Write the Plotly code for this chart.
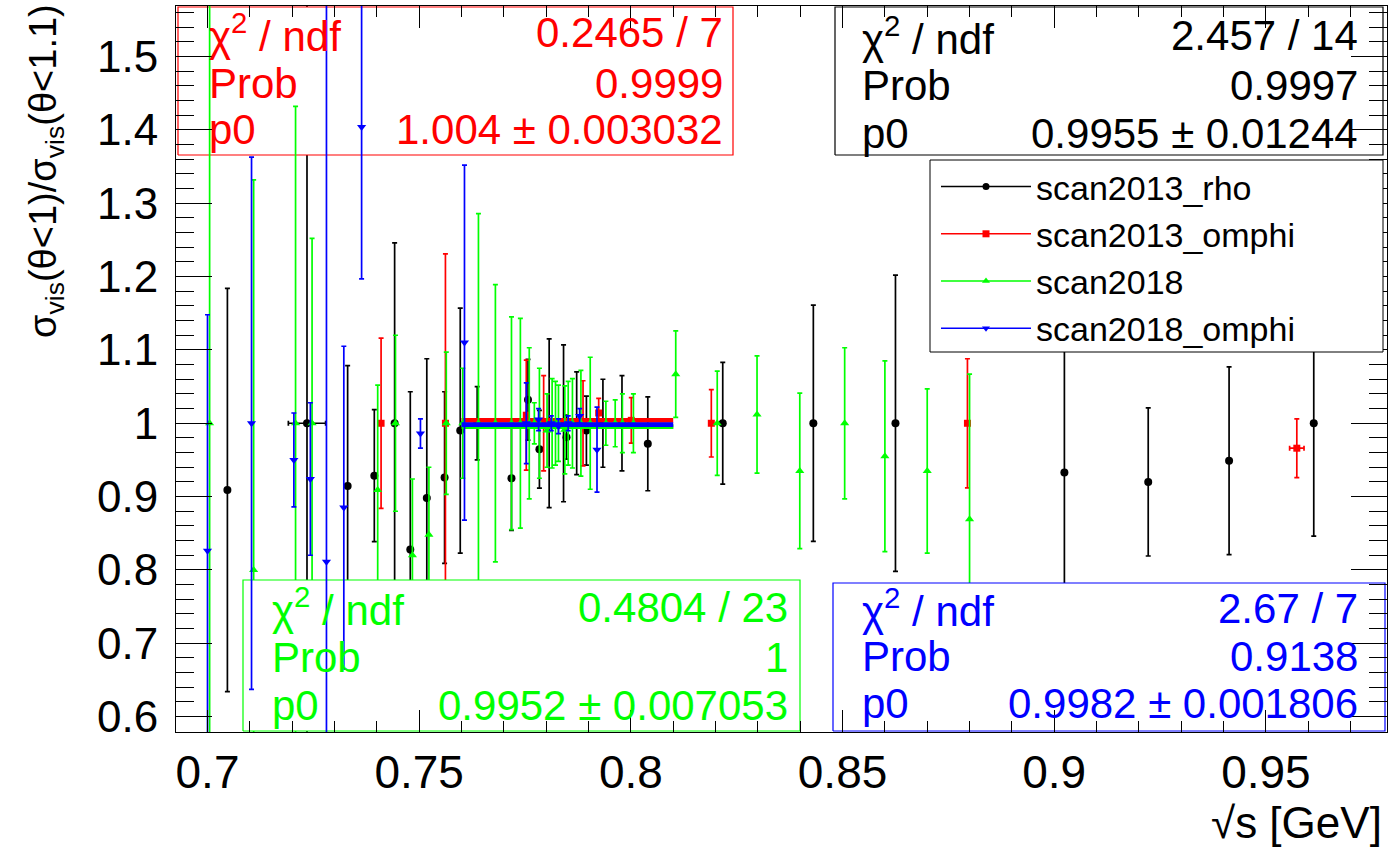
import plotly.graph_objects as go

# ---------------- data ----------------
rho_x = [0.7047, 0.7235, 0.7331, 0.7394, 0.7442, 0.7479, 0.7518, 0.7560, 0.7597, 0.7637,
         0.7718, 0.7757, 0.7784, 0.7807, 0.7841, 0.7848, 0.7872, 0.7895, 0.7934, 0.7979,
         0.8040, 0.8217, 0.8431, 0.8625, 0.9024, 0.9222, 0.9413, 0.9613]
rho_y = [0.909, 1.0, 0.9145, 0.9286, 1.0, 0.828, 0.898, 0.926, 0.990, 1.0,
         0.925, 1.032, 0.9645, 1.0, 1.0, 0.981, 1.0, 0.990, 1.0, 1.0,
         0.972, 1.0, 1.0, 1.0, 0.933, 0.920, 0.949, 1.0]
rho_ey = [0.275, 0.60, 0.164, 0.09, 0.246, 0.215, 0.19, 0.117, 0.167, 0.05,
          0.071, 0.055, 0.053, 0.115, 0.107, 0.03, 0.07, 0.047, 0.06, 0.065,
          0.064, 0.083, 0.161, 0.202, 0.25, 0.101, 0.128, 0.154]
rho_ex = [0, 0.0044, 0, 0, 0, 0, 0, 0, 0, 0,
          0, 0, 0, 0, 0, 0, 0, 0, 0, 0,
          0, 0, 0, 0, 0, 0, 0, 0]

omphi13_x = [0.7410, 0.7562, 0.7753, 0.7794, 0.7887, 0.7924, 0.8001, 0.8190, 0.8795, 0.9573]
omphi13_y = [1.0, 1.0, 1.011, 1.0, 1.0, 1.014, 1.004, 1.0, 1.0, 0.966]
omphi13_ey = [0.116, 0.231, 0.075, 0.065, 0.058, 0.02, 0.031, 0.046, 0.088, 0.04]
omphi13_ex = [0, 0, 0, 0, 0, 0, 0, 0, 0, 0.0017]

s18_x = [0.7005, 0.7109, 0.7208, 0.7247, 0.7402, 0.7444, 0.7484, 0.7523, 0.7564, 0.7603,
         0.7640, 0.7680, 0.7718, 0.7739, 0.7760, 0.7772, 0.7784, 0.7802, 0.7814, 0.7822,
         0.7829, 0.7844, 0.7852, 0.7862, 0.7882, 0.7904, 0.7941, 0.7963, 0.7980, 0.8006,
         0.8106, 0.8204, 0.8298, 0.8399, 0.8505, 0.8600, 0.8700, 0.8800]
s18_y = [1.0, 0.80, 1.0, 1.0, 0.909, 1.0, 0.82, 0.848, 1.0, 1.0,
         1.0, 1.0, 1.0, 1.0, 1.0, 1.0, 1.0, 0.99, 1.0, 1.0,
         1.0, 0.991, 1.0, 1.0, 1.0, 1.0, 1.0, 1.0, 1.0, 1.0,
         1.067, 1.0, 1.012, 0.935, 1.0, 0.955, 0.935, 0.869]
s18_ey = [0.62, 0.532, 0.432, 0.252, 0.143, 0.12, 0.104, 0.092, 0.097, 0.075,
          0.286, 0.189, 0.145, 0.143, 0.103, 0.028, 0.075, 0.05, 0.061, 0.057,
          0.052, 0.06, 0.057, 0.061, 0.072, 0.09, 0.03, 0.032, 0.04, 0.04,
          0.059, 0.071, 0.08, 0.106, 0.103, 0.13, 0.112, 0.198]

om18_x = [0.7000, 0.7104, 0.7204, 0.7243, 0.7281, 0.7322, 0.7364, 0.7503,
          0.7607, 0.7753, 0.7782, 0.7812, 0.7829, 0.7852, 0.7879, 0.7920]
om18_y = [0.826, 1.0, 0.950, 0.924, 0.811, 0.885, 1.404, 0.986,
          1.11, 1.0, 1.005, 1.0, 0.996, 1.0, 1.01, 0.964]
om18_ey = [0.322, 0.363, 0.064, 0.104, 0.77, 0.22, 0.207, 0.02,
           0.242, 0.055, 0.015, 0.01, 0.01, 0.01, 0.01, 0.058]

fit_range = [0.76, 0.81]
fit_p0 = {"rho": 0.9955, "omphi13": 1.004, "s18": 0.9952, "om18": 0.9982}

series_names = ["scan2013_rho", "scan2013_omphi", "scan2018", "scan2018_omphi"]
colors = ["#000000", "#ff0000", "#00ff00", "#0000ff"]
symbols = ["circle", "square", "triangle-up", "triangle-down"]

stat_labels = ["χ<sup>2</sup> / ndf", "Prob", "p0"]
stat_values = {
    "rho": ["2.457 / 14", "0.9997", "0.9955 ± 0.01244"],
    "omphi13": ["0.2465 / 7", "0.9999", "1.004 ± 0.003032"],
    "s18": ["0.4804 / 23", "1", "0.9952 ± 0.007053"],
    "om18": ["2.67 / 7", "0.9138", "0.9982 ± 0.001806"],
}

x_ticks = [0.7, 0.75, 0.8, 0.85, 0.9, 0.95]
y_ticks = [0.6, 0.7, 0.8, 0.9, 1.0, 1.1, 1.2, 1.3, 1.4, 1.5]

# ---------------- layout geometry ----------------
W, H = 1393, 849
L, R, T, B = 176, 1387, 6, 732
xr = [0.69256, 0.9786]
yr = [0.5790, 1.5690]

def px2x(px):
    return xr[0] + (px - L) / (R - L) * (xr[1] - xr[0])

def py2y(py):
    return yr[1] - (py - T) / (B - T) * (yr[1] - yr[0])

def pap_x(px):
    return (px - L) / (R - L)

def pap_y(py):
    return (B - py) / (B - T)

# stat box geometry (pixels): x0, x1, y0, y1, text left, text right, row centres
boxes = {
    "omphi13": (178, 733, 7, 155, 207, 725, [33, 84, 130]),
    "rho": (835, 1383, 7, 155, 860, 1360, [36, 85, 133]),
    "s18": (243, 800, 580, 731, 270, 790, [607, 657, 705]),
    "om18": (833, 1385, 583, 731, 860, 1360, [608, 656, 703]),
}
box_color = {"rho": colors[0], "omphi13": colors[1], "s18": colors[2], "om18": colors[3]}
STAT_SIZE = 42

fig = go.Figure()

FONT = "Liberation Sans, Arial, Helvetica, sans-serif"

# legend-only entries (line + marker)
for name, c, s in zip(series_names, colors, symbols):
    fig.add_trace(go.Scatter(x=[None], y=[None], mode="lines+markers", name=name,
                             line=dict(color=c, width=1.5),
                             marker=dict(color=c, symbol=s, size=7)))

def add_points(x, y, ey, ex, c, s, size=8):
    fig.add_trace(go.Scatter(
        x=x, y=y, mode="markers", showlegend=False, hoverinfo="skip",
        marker=dict(color=c, symbol=s, size=size, line=dict(width=0)),
        error_y=dict(type="data", array=ey, visible=True, color=c, thickness=1.7, width=2.5),
        error_x=dict(type="data", array=ex, visible=True, color=c, thickness=1.7, width=2.5)
        if ex is not None else None,
        cliponaxis=True,
    ))

def add_fit(key, c):
    p = fit_p0[key]
    fig.add_trace(go.Scatter(x=fit_range, y=[p, p], mode="lines", showlegend=False,
                             hoverinfo="skip", line=dict(color=c, width=4.6)))

def add_box(key):
    x0, x1, y0, y1, tl, tr, rows = boxes[key]
    c = box_color[key]
    fig.add_trace(go.Scatter(
        x=[px2x(x0), px2x(x1), px2x(x1), px2x(x0), px2x(x0)],
        y=[py2y(y1), py2y(y1), py2y(y0), py2y(y0), py2y(y1)],
        mode="lines", fill="toself", fillcolor="white",
        line=dict(color=c, width=1.2), showlegend=False, hoverinfo="skip"))
    for lab, val, ry in zip(stat_labels, stat_values[key], rows):
        fig.add_annotation(xref="paper", yref="paper", x=pap_x(tl), y=pap_y(ry),
                           text=lab, showarrow=False, xanchor="left", yanchor="middle",
                           font=dict(family=FONT, size=STAT_SIZE, color=c))
        fig.add_annotation(xref="paper", yref="paper", x=pap_x(tr), y=pap_y(ry),
                           text=val, showarrow=False, xanchor="right", yanchor="middle",
                           font=dict(family=FONT, size=STAT_SIZE, color=c))

# drawing order as in the original canvas
add_points(rho_x, rho_y, rho_ey, rho_ex, colors[0], symbols[0])
add_fit("rho", colors[0])
add_points(omphi13_x, omphi13_y, omphi13_ey, omphi13_ex, colors[1], symbols[1], size=7)
add_fit("omphi13", colors[1])
add_box("omphi13")
add_points(s18_x, s18_y, s18_ey, None, colors[2], symbols[2])
add_fit("s18", colors[2])
add_box("s18")
add_points(om18_x, om18_y, om18_ey, None, colors[3], symbols[3])
add_fit("om18", colors[3])
add_box("om18")
add_box("rho")

# axis titles as annotations (ROOT aligns them to the axis end)
fig.add_annotation(xref="paper", yref="paper", x=pap_x(1384), y=pap_y(849),
                   text="√s [GeV]", showarrow=False, xanchor="right", yanchor="bottom",
                   font=dict(family=FONT, size=44, color="black"))
fig.add_annotation(xref="paper", yref="paper", x=pap_x(20), y=pap_y(2),
                   text="σ<sub>vis</sub>(θ&lt;1)/σ<sub>vis</sub>(θ&lt;1.1)", showarrow=False,
                   textangle=-90, xanchor="left", yanchor="top",
                   font=dict(family=FONT, size=38, color="black"))

# legend frame (ROOT TLegend box)
fig.add_shape(type="rect", xref="paper", yref="paper", layer="above",
              x0=pap_x(930), x1=pap_x(1383), y0=pap_y(352), y1=pap_y(160),
              fillcolor="white", line=dict(color="black", width=1))

fig.update_layout(
    width=W, height=H,
    margin=dict(l=L, r=W - R, t=T, b=H - B, pad=0),
    paper_bgcolor="white", plot_bgcolor="white",
    font=dict(family=FONT, color="black"),
    showlegend=True,
    legend=dict(x=pap_x(936), y=pap_y(158), xanchor="left", yanchor="top",
                bgcolor="rgba(0,0,0,0)", borderwidth=0,
                font=dict(family=FONT, size=34, color="black"),
                itemwidth=90, tracegroupgap=0),
    xaxis=dict(range=xr, showgrid=False, zeroline=False, showline=True, linecolor="black",
               linewidth=1, mirror="allticks", ticks="inside", ticklen=22, tickcolor="black",
               tickvals=x_ticks, ticktext=[f"{v:g}" for v in x_ticks],
               tickfont=dict(family=FONT, size=46),
               minor=dict(dtick=0.01, tick0=0.7, ticks="inside", ticklen=11, tickcolor="black"),
               ticklabelstandoff=0),
    yaxis=dict(range=yr, showgrid=False, zeroline=False, showline=True, linecolor="black",
               linewidth=1, mirror="allticks", ticks="inside", ticklen=36, tickcolor="black",
               tickvals=y_ticks, ticktext=[f"{v:g}" for v in y_ticks],
               tickfont=dict(family=FONT, size=44),
               minor=dict(dtick=0.02, tick0=0.6, ticks="inside", ticklen=18, tickcolor="black"),
               ticklabelstandoff=8),
)

fig.write_html("out.html")
